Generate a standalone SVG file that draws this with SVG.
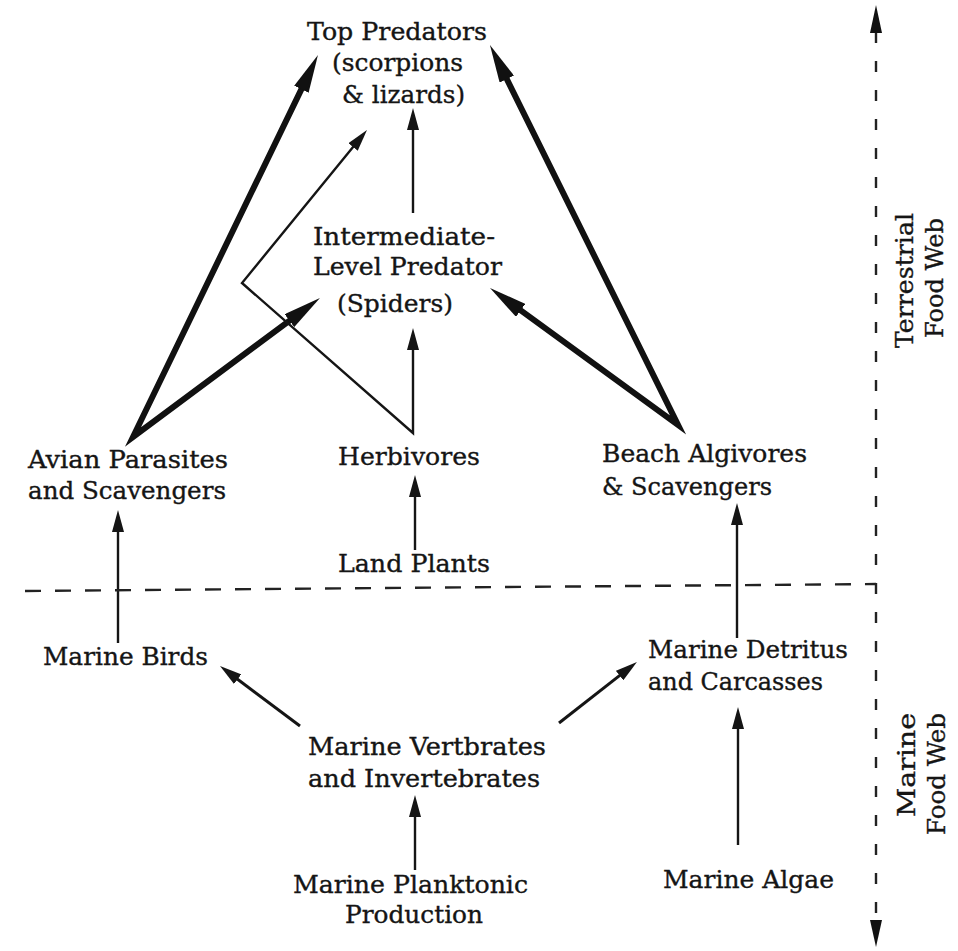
<svg xmlns="http://www.w3.org/2000/svg" width="958" height="951" viewBox="0 0 958 951">
<style>
.t{font-family:"DejaVu Serif","Liberation Serif",serif;font-size:24px;fill:#151515;stroke:#151515;stroke-width:0.35}
.thin{fill:none;stroke:#151515;stroke-width:2.4}
.mid{fill:none;stroke:#151515;stroke-width:3}
.thick{fill:none;stroke:#111;stroke-width:6;stroke-linejoin:miter;stroke-miterlimit:12}
.dash{fill:none;stroke:#222;stroke-width:2.4}
</style>
<defs>
<marker id="ah" viewBox="0 0 22 12" refX="10" refY="6" markerWidth="22" markerHeight="12" markerUnits="userSpaceOnUse" orient="auto-start-reverse">
<path d="M0,0 L22,6 L0,12 z" fill="#151515"/>
</marker>
<marker id="ahT" viewBox="0 0 38 16" refX="14" refY="8" markerWidth="38" markerHeight="16" markerUnits="userSpaceOnUse" orient="auto-start-reverse">
<path d="M0,0 L38,8 L0,16 z" fill="#111"/>
</marker>
</defs>
<rect width="958" height="951" fill="#fff"/>

<g id="connectors">
<path class="thick" d="M307.5,76.6 L133,437 L300.7,312.3" marker-start="url(#ahT)" marker-end="url(#ahT)"/>
<path class="thick" d="M500.6,66.5 L678,425 L509.4,302.1" marker-start="url(#ahT)" marker-end="url(#ahT)"/>
<path class="thin" d="M359.4,139.3 L242,283 L413,433 L413,340" marker-start="url(#ah)" marker-end="url(#ah)"/>
<path class="thin" d="M413,213 L413,120" marker-end="url(#ah)"/>
<path class="thin" d="M415,550 L415,487" marker-end="url(#ah)"/>
<path class="thin" d="M118,643 L118,522" marker-end="url(#ah)"/>
<path class="thin" d="M737,638 L737,515" marker-end="url(#ah)"/>
<path class="mid" d="M300,726 L229.6,673.2" marker-end="url(#ah)"/>
<path class="mid" d="M559,723 L627.5,669.4" marker-end="url(#ah)"/>
<path class="thin" d="M415,870 L415,807" marker-end="url(#ah)"/>
<path class="thin" d="M738,845 L738,719" marker-end="url(#ah)"/>
</g>

<g id="boundaries">
<path class="dash" d="M876,32 L876,922" stroke-dasharray="11 18"/>
<polygon points="876,5 870,33 882,33" fill="#111"/>
<polygon points="876,947 870,920 882,920" fill="#111"/>
<path class="dash" d="M25,591 L876,584" stroke-dasharray="16 14"/>
</g>

<g id="top-predators">
<text class="t" x="307" y="40" textLength="180" lengthAdjust="spacingAndGlyphs">Top Predators</text>
<text class="t" x="332" y="71" textLength="131" lengthAdjust="spacingAndGlyphs">(scorpions</text>
<text class="t" x="342" y="103" textLength="123" lengthAdjust="spacingAndGlyphs">&amp; lizards)</text>
</g>
<g id="intermediate-predator">
<text class="t" x="313" y="245" textLength="182" lengthAdjust="spacingAndGlyphs">Intermediate-</text>
<text class="t" x="313" y="275" textLength="189" lengthAdjust="spacingAndGlyphs">Level Predator</text>
<text class="t" x="337" y="312" textLength="116" lengthAdjust="spacingAndGlyphs">(Spiders)</text>
</g>
<g id="avian-parasites">
<text class="t" x="28" y="468" textLength="200" lengthAdjust="spacingAndGlyphs">Avian Parasites</text>
<text class="t" x="28" y="499" textLength="198" lengthAdjust="spacingAndGlyphs">and Scavengers</text>
</g>
<g id="herbivores">
<text class="t" x="338" y="465" textLength="142" lengthAdjust="spacingAndGlyphs">Herbivores</text>
</g>
<g id="beach-algivores">
<text class="t" x="602" y="462" textLength="205" lengthAdjust="spacingAndGlyphs">Beach Algivores</text>
<text class="t" x="602" y="495" textLength="170" lengthAdjust="spacingAndGlyphs">&amp; Scavengers</text>
</g>
<g id="land-plants">
<text class="t" x="338" y="572" textLength="152" lengthAdjust="spacingAndGlyphs">Land Plants</text>
</g>
<g id="marine-birds">
<text class="t" x="43" y="665" textLength="165" lengthAdjust="spacingAndGlyphs">Marine Birds</text>
</g>
<g id="marine-detritus">
<text class="t" x="648" y="658" textLength="200" lengthAdjust="spacingAndGlyphs">Marine Detritus</text>
<text class="t" x="648" y="690" textLength="175" lengthAdjust="spacingAndGlyphs">and Carcasses</text>
</g>
<g id="marine-vertebrates">
<text class="t" x="308" y="755" textLength="238" lengthAdjust="spacingAndGlyphs">Marine Vertbrates</text>
<text class="t" x="308" y="787" textLength="232" lengthAdjust="spacingAndGlyphs">and Invertebrates</text>
</g>
<g id="marine-planktonic">
<text class="t" x="293" y="893" textLength="235" lengthAdjust="spacingAndGlyphs">Marine Planktonic</text>
<text class="t" x="345" y="923" textLength="138" lengthAdjust="spacingAndGlyphs">Production</text>
</g>
<g id="marine-algae">
<text class="t" x="663" y="888" textLength="171" lengthAdjust="spacingAndGlyphs">Marine Algae</text>
</g>
<g id="terrestrial-label">
<text class="t" transform="translate(913,348) rotate(-90)" textLength="135" lengthAdjust="spacingAndGlyphs">Terrestrial</text>
<text class="t" transform="translate(943,338) rotate(-90)" textLength="120" lengthAdjust="spacingAndGlyphs">Food Web</text>
</g>
<g id="marine-label">
<text class="t" transform="translate(915,817) rotate(-90)" textLength="104" lengthAdjust="spacingAndGlyphs">Marine</text>
<text class="t" transform="translate(945,835) rotate(-90)" textLength="122" lengthAdjust="spacingAndGlyphs">Food Web</text>
</g>
</svg>
